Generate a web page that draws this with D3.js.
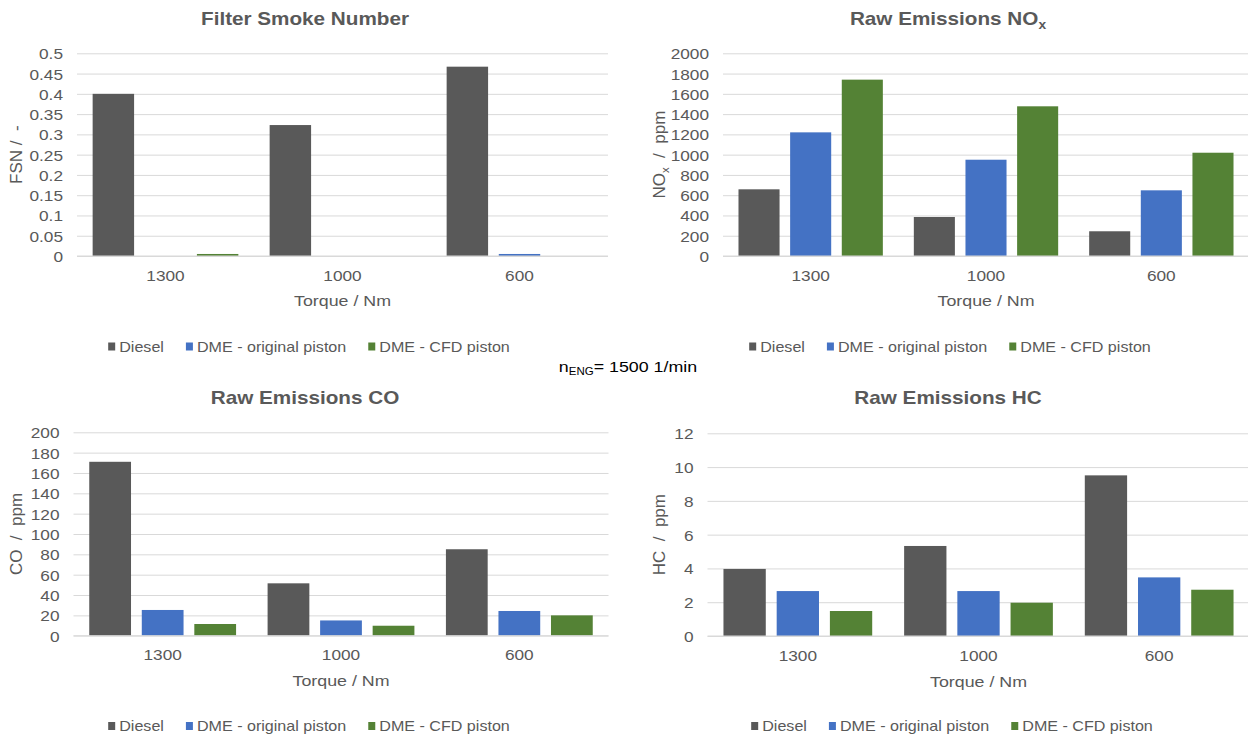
<!DOCTYPE html>
<html>
<head>
<meta charset="utf-8">
<script src="https://cdn.jsdelivr.net/npm/d3@7"></script>
<style>
  html, body { margin: 0; padding: 0; background: #ffffff; }
  svg { display: block; font-family: "Liberation Sans", Arial, sans-serif; }
  text { white-space: pre; }
</style>
</head>
<body>
<svg id="chart" width="1248" height="738"></svg>
<script>
// ---------------- data ----------------
const categories = ["1300", "1000", "600"];
const seriesNames = ["Diesel", "DME - original piston", "DME - CFD piston"];

const fsnDiesel   = [0.400, 0.323, 0.467];
const fsnOriginal = [0.000, 0.000, 0.005];
const fsnCfd      = [0.005, 0.000, 0.000];
const fsnTicks    = [0, 0.05, 0.1, 0.15, 0.2, 0.25, 0.3, 0.35, 0.4, 0.45, 0.5];

const noxDiesel   = [658, 385, 244];
const noxOriginal = [1220, 950, 648];
const noxCfd      = [1740, 1477, 1019];
const noxTicks    = [0, 200, 400, 600, 800, 1000, 1200, 1400, 1600, 1800, 2000];

const coDiesel    = [171, 51.5, 85];
const coOriginal  = [25.3, 15, 24.3];
const coCfd       = [11.5, 9.8, 20];
const coTicks     = [0, 20, 40, 60, 80, 100, 120, 140, 160, 180, 200];

const hcDiesel    = [3.97, 5.33, 9.51];
const hcOriginal  = [2.66, 2.66, 3.47];
const hcCfd       = [1.48, 1.97, 2.74];
const hcTicks     = [0, 2, 4, 6, 8, 10, 12];

const xAxisTitle = "Torque / Nm";
const engineNote = { main: "n", sub: "ENG", rest: "= 1500 1/min" };

// ---------------- style / layout ----------------
const colors = ["#595959", "#4472c4", "#548235"];
const textColor = "#595959";
const gridColor = "#d9d9d9";
const SX = 1.15; // horizontal stretch of the text in the reference

const panels = [
  { title: ["Filter Smoke Number", ""], yTitle: ["FSN /  -", "", ""], ticks: fsnTicks,
    values: [fsnDiesel, fsnOriginal, fsnCfd],
    plot: { x0: 77, x1: 608, yTop: 53.3, yBot: 256 }, titleX: 305, titleY: 18.5,
    yTitleX: 22, legendX: 309, catY: 275, xTitleY: 300, legendY: 346.5 },
  { title: ["Raw Emissions NO", "x"], yTitle: ["NO", "x", "  /  ppm"], ticks: noxTicks,
    values: [noxDiesel, noxOriginal, noxCfd],
    plot: { x0: 723, x1: 1249, yTop: 53.3, yBot: 256 }, titleX: 948, titleY: 18.5,
    yTitleX: 665, legendX: 950, catY: 275, xTitleY: 300, legendY: 346.5 },
  { title: ["Raw Emissions CO", ""], yTitle: ["CO  /  ppm", "", ""], ticks: coTicks,
    values: [coDiesel, coOriginal, coCfd],
    plot: { x0: 73.5, x1: 608.5, yTop: 432.3, yBot: 635.7 }, titleX: 305, titleY: 397.5,
    yTitleX: 22, legendX: 309, catY: 654.5, xTitleY: 680, legendY: 726 },
  { title: ["Raw Emissions HC", ""], yTitle: ["HC  /  ppm", "", ""], ticks: hcTicks,
    values: [hcDiesel, hcOriginal, hcCfd],
    plot: { x0: 707.5, x1: 1249.5, yTop: 433.3, yBot: 636 }, titleX: 948, titleY: 397.5,
    yTitleX: 665, legendX: 952, catY: 655, xTitleY: 680.5, legendY: 726 }
];

const svg = d3.select("#chart");

function stretchedText(g, x, y, anchor, size, weight, fill) {
  return g.append("text")
    .attr("transform", `translate(${x},${y}) scale(${SX},1)`)
    .attr("text-anchor", anchor)
    .attr("font-size", size)
    .attr("font-weight", weight || "normal")
    .attr("fill", fill || textColor);
}

panels.forEach(p => {
  const g = svg.append("g");
  const { x0, x1, yTop, yBot } = p.plot;
  const maxTick = p.ticks[p.ticks.length - 1];

  const x = d3.scaleBand().domain(categories).range([x0, x1]).paddingInner(0).paddingOuter(0);
  const xs = d3.scaleBand().domain(seriesNames).range([0, x.bandwidth()])
    .paddingInner(0.205).paddingOuter(0.3);
  const y = d3.scaleLinear().domain([0, maxTick]).range([yBot, yTop]);

  // gridlines
  const grid = g.append("g").attr("transform", `translate(${x0},0)`)
    .call(d3.axisLeft(y).tickValues(p.ticks).tickSize(-(x1 - x0)).tickFormat(""));
  grid.select(".domain").remove();
  grid.selectAll("line").attr("stroke", gridColor).attr("stroke-width", 1);

  // y tick labels
  const yAxis = g.append("g").attr("transform", `translate(${x0},0)`)
    .call(d3.axisLeft(y).tickValues(p.ticks).tickSize(0).tickPadding(0)
      .tickFormat(v => String(+v.toFixed(2))));
  yAxis.select(".domain").remove();
  yAxis.selectAll("text")
    .attr("x", null).attr("dy", null)
    .attr("transform", `translate(-14,5.5) scale(${SX},1)`)
    .attr("font-size", 15).attr("font-family", "Liberation Sans, Arial, sans-serif")
    .attr("fill", textColor);

  // bars
  const groups = g.append("g").selectAll("g")
    .data(categories).join("g")
    .attr("transform", c => `translate(${x(c)},0)`);
  groups.selectAll("rect")
    .data((c, ci) => seriesNames.map((s, si) => ({ s, si, v: p.values[si][ci] })))
    .join("rect")
    .attr("x", d => xs(d.s))
    .attr("width", xs.bandwidth())
    .attr("y", d => y(d.v))
    .attr("height", d => yBot - y(d.v))
    .attr("fill", d => colors[d.si]);

  // category labels
  const xAxis = g.append("g").attr("transform", `translate(0,${yBot})`)
    .call(d3.axisBottom(x).tickSize(0).tickPadding(0));
  xAxis.select(".domain").remove();
  xAxis.selectAll("text")
    .attr("y", null).attr("dy", null)
    .attr("transform", `translate(0,${p.catY - yBot + 5.5}) scale(${SX},1)`)
    .attr("font-size", 15).attr("font-family", "Liberation Sans, Arial, sans-serif")
    .attr("fill", textColor);

  // baseline
  g.append("line").attr("x1", x0).attr("x2", x1).attr("y1", yBot).attr("y2", yBot)
    .attr("stroke", gridColor).attr("stroke-width", 1);

  // title
  const t = stretchedText(g, p.titleX, p.titleY + 6.5, "middle", 18, "bold");
  t.append("tspan").text(p.title[0]);
  if (p.title[1]) t.append("tspan").attr("font-size", 12).attr("dy", 4).text(p.title[1]);

  // x title
  stretchedText(g, (x0 + x1) / 2, p.xTitleY + 6, "middle", 15.5).text(xAxisTitle);

  // y title
  const yt = g.append("text")
    .attr("transform", `translate(${p.yTitleX},${(yTop + yBot) / 2}) rotate(-90)`)
    .attr("text-anchor", "middle").attr("font-size", 17).attr("fill", textColor);
  yt.append("tspan").text(p.yTitle[0]);
  if (p.yTitle[1]) {
    yt.append("tspan").attr("font-size", 11.5).attr("dy", 4).text(p.yTitle[1]);
    yt.append("tspan").attr("dy", -4).text(p.yTitle[2]);
  }

  // legend
  const leg = g.append("g");
  let cursor = 0;
  seriesNames.forEach((s, i) => {
    const it = leg.append("g");
    it.append("rect").attr("x", cursor).attr("y", -4).attr("width", 7).attr("height", 8)
      .attr("fill", colors[i]);
    const tx = it.append("text")
      .attr("transform", `translate(${cursor + 11},5.3) scale(${SX},1)`)
      .attr("font-size", 14).attr("fill", textColor).text(s);
    const w = tx.node().getComputedTextLength() * SX;
    cursor += 11 + w + 22;
  });
  const total = cursor - 22;
  leg.attr("transform", `translate(${p.legendX - total / 2},${p.legendY})`);
});

// engine speed note
const note = svg.append("text")
  .attr("transform", `translate(628,371.5) scale(${SX},1)`)
  .attr("text-anchor", "middle").attr("font-size", 15.5).attr("fill", "#000000");
note.append("tspan").text(engineNote.main);
note.append("tspan").attr("font-size", 10).attr("dy", 3).text(engineNote.sub);
note.append("tspan").attr("dy", -3).text(engineNote.rest);
</script>
</body>
</html>
